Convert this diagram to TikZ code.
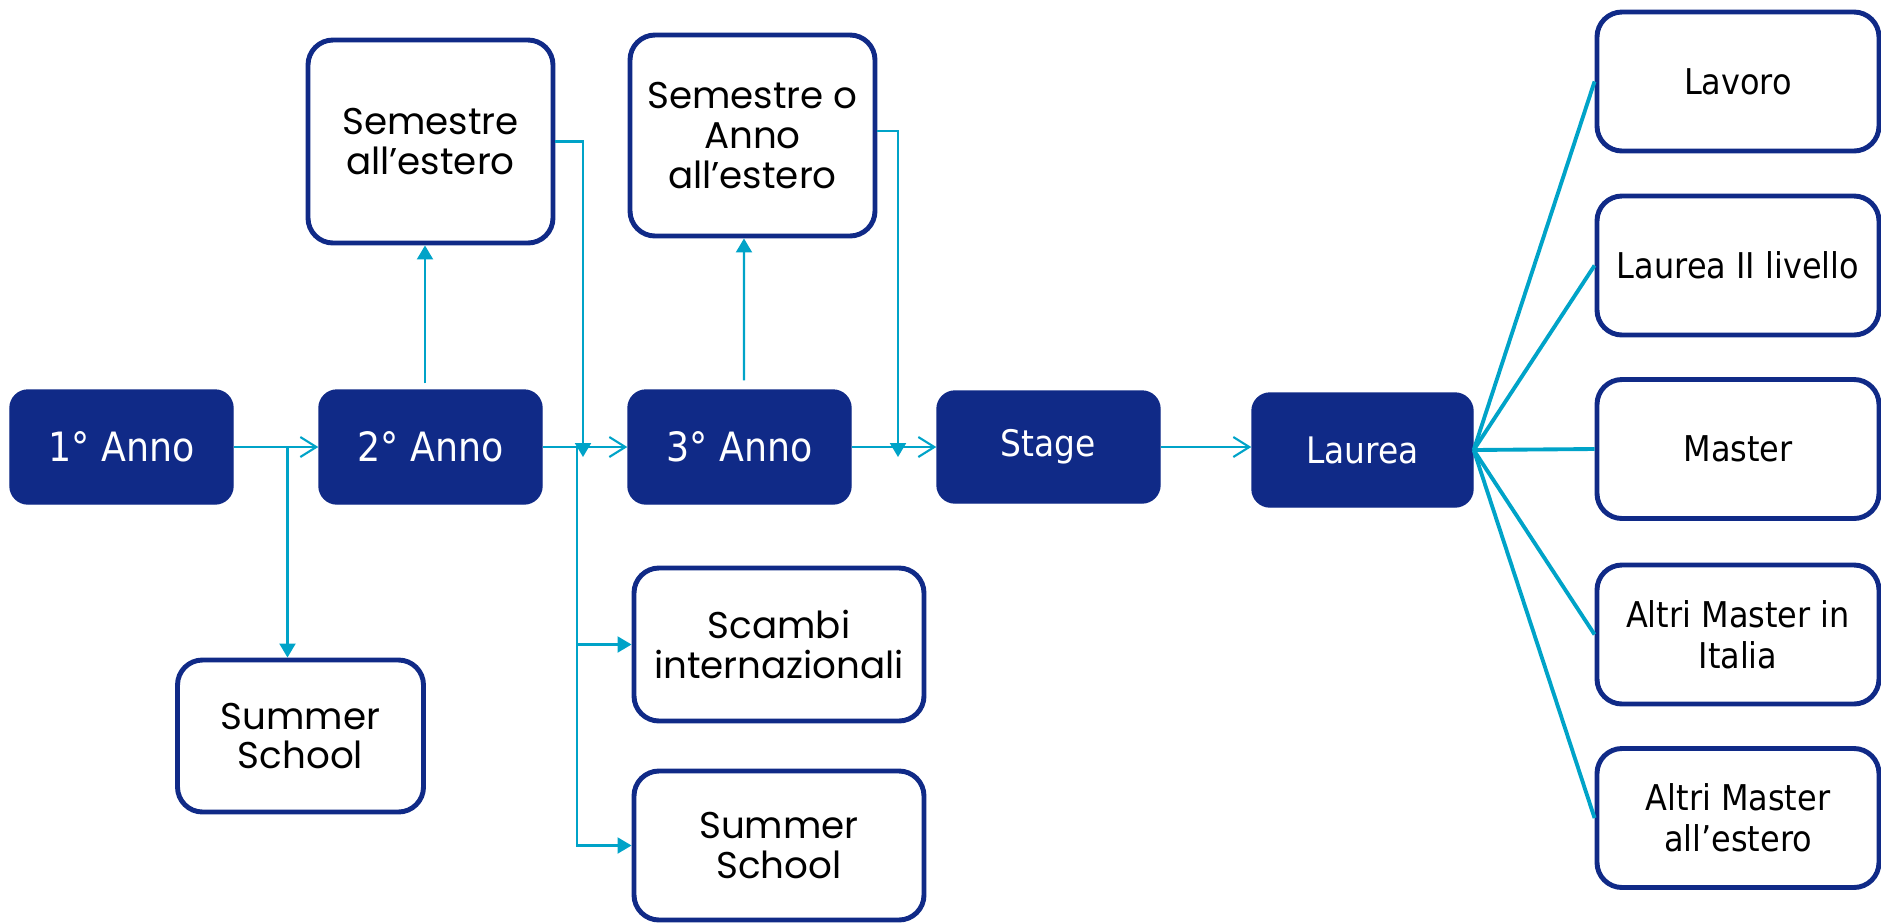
\documentclass[tikz,border=0pt]{standalone}
\usepackage{fontspec}
\usepackage{tikz}
\usetikzlibrary{arrows.meta}
\setmainfont{DejaVu Sans}[FakeStretch=0.9]
\newfontfamily\gothic{Poppins}
\definecolor{navy}{RGB}{16,42,135}
\definecolor{sky}{RGB}{0,163,200}

\begin{document}
\begin{tikzpicture}[
  year/.style={fill=navy, draw=navy, rounded corners=0.18cm, minimum width=2.23cm,
    minimum height=1.14cm, inner sep=0pt, text=white, font=\fontsize{11.5}{13}\selectfont},
  abroad/.style={draw=navy, line width=1.4pt, fill=white, rounded corners=0.25cm,
    minimum width=2.45cm, inner sep=0pt, align=center, font=\gothic\fontsize{10.6}{11.3}\selectfont},
  outcome/.style={draw=navy, line width=1.4pt, rounded corners=0.25cm, minimum width=2.82cm,
    minimum height=1.39cm, inner sep=0pt, align=center, font=\fontsize{10.1}{11.7}\selectfont},
  link/.style={draw=sky, line width=0.6pt},
  flow/.style={link, -{Straight Barb[length=1.6mm,width=2mm]}},
  branch/.style={link, -{Triangle[length=1.4mm,width=1.6mm]}},
  fan/.style={draw=sky, line width=1.1pt}
]
\useasboundingbox (0,0) rectangle (18.81,-9.23);

% main line
\node[year] (y1) at (1.215,-4.47) {1° Anno};
\node[year] (y2) at (4.305,-4.47) {2° Anno};
\node[year] (y3) at (7.395,-4.47) {3° Anno};
\node[year, minimum height=1.12cm, font=\fontsize{10.4}{12}\selectfont] (stage) at (10.485,-4.47) {Stage};
\node[year, minimum width=2.21cm, font=\fontsize{10.4}{12}\selectfont] (laurea) at (13.625,-4.50) {Laurea};

% exchanges
\node[abroad, minimum height=2.03cm] (semA) at (4.305,-1.415) {Semestre\\all’estero};
\node[abroad, minimum height=2.01cm] (semB) at (7.525,-1.355) {Semestre o\\Anno\\all’estero};
\node[abroad, minimum width=2.46cm, minimum height=1.52cm] (summer1) at (3.005,-7.36) {Summer\\School};
\node[abroad, minimum width=2.9cm, minimum height=1.53cm] (scambi) at (7.79,-6.445) {Scambi\\internazionali};
\node[abroad, minimum width=2.9cm, minimum height=1.49cm] (summer2) at (7.79,-8.455) {Summer\\School};

% after the degree
\node[outcome] (lavoro) at (17.38,-0.815) {Lavoro};
\node[outcome] (lau2) at (17.38,-2.655) {Laurea II livello};
\node[outcome] (master) at (17.38,-4.49) {Master};
\node[outcome] (italia) at (17.38,-6.345) {Altri Master in\\Italia};
\node[outcome] (estero) at (17.38,-8.18) {Altri Master\\all’estero};

\coordinate (b1) at (2.875,-4.47);
\coordinate (b2) at (5.77,-4.47);
\coordinate (d1) at (5.83,-4.57);
\coordinate (d2) at (8.98,-4.57);

\draw[flow] (y1.east) -- (y2.west);
\draw[flow] (y2.east) -- (y3.west);
\draw[flow] (y3.east) -- (stage.west);
\draw[flow] (stage.east) -- (stage.east -| laurea.west);

\draw[branch] (b1) -- (b1 |- summer1.north);
\draw[branch] ([shift={(-0.055,0.06)}]y2.north) -- ([xshift=-0.055cm]semA.south);
\draw[branch] (semA.east) -| (d1);
\draw[branch] (b2) |- (summer2.west);
\draw[branch] (b2 |- scambi.west) -- (scambi.west);
\draw[branch] ([shift={(0.045,0.09)}]y3.north) -- ([xshift=-0.085cm]semB.south);
\draw[branch] ([yshift=0.045cm]semB.east) -| (d2);

\draw[fan] (laurea.east) -- (lavoro.west);
\draw[fan] (laurea.east) -- (lau2.west);
\draw[fan] (laurea.east) -- (master.west);
\draw[fan] (laurea.east) -- (italia.west);
\draw[fan] (laurea.east) -- (estero.west);
\end{tikzpicture}
\end{document}
